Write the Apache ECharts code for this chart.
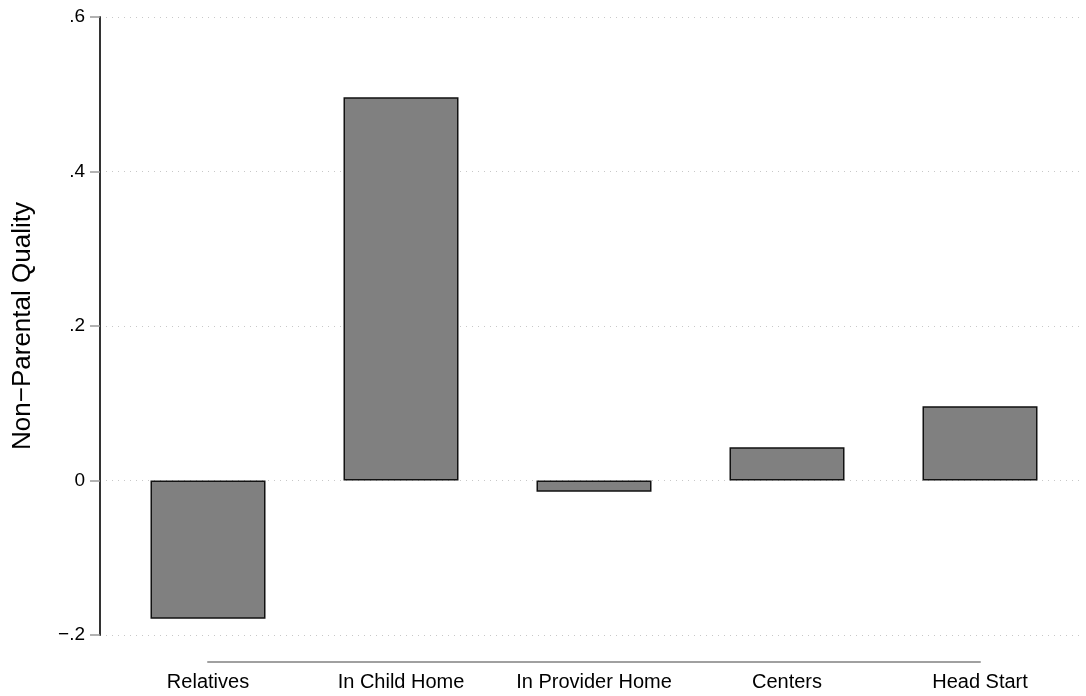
<!DOCTYPE html>
<html><head><meta charset="utf-8">
<script src="https://cdn.jsdelivr.net/npm/echarts@6/dist/echarts.min.js"></script>
<style>html,body{margin:0;padding:0;background:#fff}#c{width:1086px;height:696px}</style>
</head><body><div id="c"></div>
<script>
const categories = ['Relatives', 'In Child Home', 'In Provider Home', 'Centers', 'Head Start'];
const values = [-0.179, 0.496, -0.0145, 0.043, 0.096];
const yTicks = [-0.2, 0, 0.2, 0.4, 0.6];
const yTitle = 'Non\u2212Parental Quality';

const fmt = v => {
  if (Math.abs(v) < 1e-9) return '0';
  const s = Math.abs(v).toFixed(1).replace(/^0/, '');
  return (v < 0 ? '\u2212' : '') + s;
};
const FONT = 'Liberation Sans, Arial, sans-serif';
const chart = echarts.init(document.getElementById('c'), null, {renderer: 'canvas'});
chart.setOption({
  animation: false,
  backgroundColor: '#fff',
  grid: [
    {left: 100, right: 4, top: 17, bottom: 61, containLabel: false},
    {left: 208, right: 106, top: 17, bottom: 61, containLabel: false}
  ],
  xAxis: [
    {gridIndex: 0, type: 'value', min: 0, max: 1, show: false},
    {gridIndex: 1, type: 'category', data: categories, boundaryGap: false,
     position: 'bottom', offset: 27,
     axisLine: {show: true, onZero: false, lineStyle: {color: '#a0a0a0', width: 2}},
     axisTick: {show: false},
     axisLabel: {color: '#000', fontSize: 20, fontFamily: FONT, margin: 10, interval: 0},
     splitLine: {show: false}}
  ],
  yAxis: [
    {gridIndex: 0, type: 'value', min: yTicks[0], max: yTicks[yTicks.length-1], interval: 0.2,
     name: yTitle, nameLocation: 'middle', nameGap: 64, nameRotate: 90,
     nameTextStyle: {color: '#000', fontSize: 26, fontFamily: FONT},
     axisLine: {show: true, onZero: false, lineStyle: {color: '#333', width: 2}},
     axisTick: {show: true, length: 10, lineStyle: {color: '#999', width: 1.5}},
     axisLabel: {color: '#000', fontSize: 19, fontFamily: FONT, margin: 15, formatter: fmt},
     splitLine: {show: true, lineStyle: {color: '#c8c8c8', type: [1, 5], width: 1}}},
    {gridIndex: 1, type: 'value', min: yTicks[0], max: yTicks[yTicks.length-1], interval: 0.2,
     show: false, splitLine: {show: false}}
  ],
  series: [{
    type: 'bar', xAxisIndex: 1, yAxisIndex: 1,
    data: values, barWidth: 115,
    itemStyle: {color: '#808080', borderColor: '#111', borderWidth: 1.5}
  }]
});
</script></body></html>
